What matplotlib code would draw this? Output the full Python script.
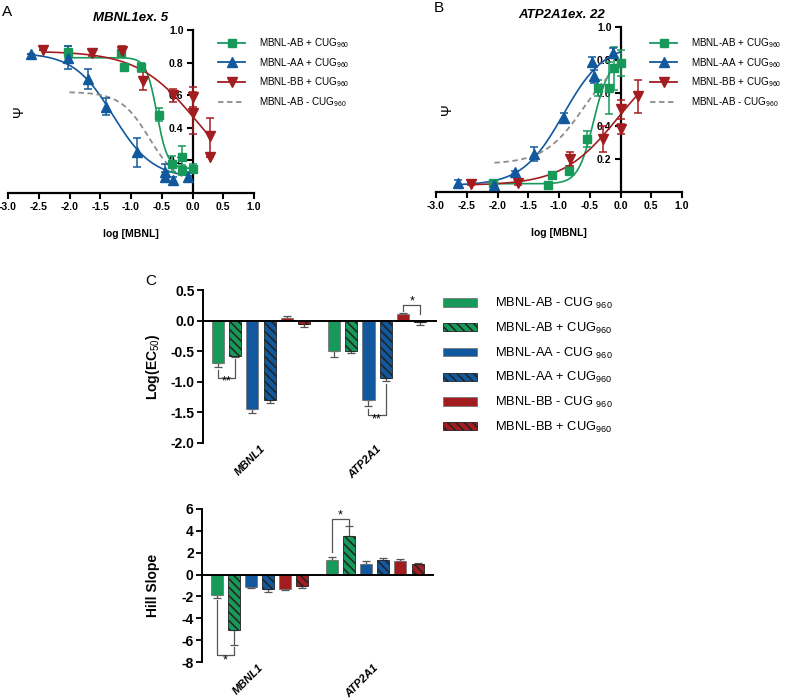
#!/usr/bin/env python3
# mbnl_dose_response.py

import matplotlib
matplotlib.use('Agg')
import matplotlib.pyplot as plt
from matplotlib.lines import Line2D
import numpy as np

plt.rcParams['font.family'] = ['Liberation Sans', 'DejaVu Sans']
plt.rcParams['mathtext.fontset'] = 'custom'
plt.rcParams['mathtext.rm'] = 'Liberation Sans'
plt.rcParams['mathtext.it'] = 'Liberation Sans:italic'
plt.rcParams['mathtext.bf'] = 'Liberation Sans:bold'
plt.rcParams['hatch.linewidth'] = 1.1

GREEN = '#17995a'
BLUE = '#11589e'
RED = '#a31d20'
GREY = '#8c8c8c'

# ---- panel A: MBNL1 exon 5 (log [MBNL] vs psi) ----
a_ab_x = [-2.03, -1.17, -1.12, -0.83, -0.55, -0.34, -0.17, -0.17, 0.0]
a_ab_y = [0.865, 0.86, 0.77, 0.77, 0.48, 0.18, 0.22, 0.14, 0.15]
a_ab_err = [0.035, 0.02, 0.02, 0.03, 0.04, 0.05, 0.07, 0.03, 0.03]
a_aa_x = [-2.62, -2.02, -1.70, -1.41, -0.91, -0.45, -0.45, -0.32, -0.08]
a_aa_y = [0.85, 0.83, 0.70, 0.53, 0.25, 0.13, 0.10, 0.08, 0.10]
a_aa_err = [0.0, 0.07, 0.06, 0.05, 0.09, 0.05, 0.03, 0.02, 0.03]
a_bb_x = [-2.43, -1.64, -1.15, -0.81, -0.32, 0.0, 0.0, 0.29, 0.29]
a_bb_y = [0.88, 0.86, 0.87, 0.69, 0.60, 0.59, 0.49, 0.35, 0.22]
a_bb_err = [0.0, 0.02, 0.03, 0.06, 0.04, 0.06, 0.13, 0.11, 0.0]
# fitted curves: bottom, top, logEC50, hill
a_ab_fit = [0.15, 0.83, -0.58, -5.0]
a_aa_fit = [0.09, 0.86, -1.29, -1.35]
a_bb_fit = [0.0, 0.87, 0.08, -0.9]
a_abneg_fit = [0.05, 0.62, -0.70, -1.85]
a_spans = [[-2.03, 0.0], [-2.62, 0.0], [-2.43, 0.3], [-2.0, 0.0]]

# ---- panel B: ATP2A1 exon 22 ----
b_ab_x = [-2.07, -1.18, -1.12, -0.84, -0.54, -0.36, -0.18, -0.10, 0.0]
b_ab_y = [0.055, 0.04, 0.10, 0.13, 0.32, 0.63, 0.63, 0.75, 0.78]
b_ab_err = [0.02, 0.02, 0.02, 0.03, 0.05, 0.05, 0.16, 0.13, 0.08]
b_aa_x = [-2.64, -2.05, -1.72, -1.41, -0.92, -0.46, -0.43, -0.12]
b_aa_y = [0.055, 0.04, 0.12, 0.23, 0.45, 0.79, 0.70, 0.84]
b_aa_err = [0.02, 0.01, 0.01, 0.04, 0.03, 0.03, 0.04, 0.03]
b_bb_x = [-2.43, -1.66, -0.82, -0.28, 0.0, 0.0, 0.29]
b_bb_y = [0.05, 0.055, 0.20, 0.32, 0.50, 0.38, 0.58]
b_bb_err = [0.01, 0.01, 0.04, 0.08, 0.06, 0.03, 0.10]
b_ab_fit = [0.05, 0.80, -0.44, 3.5]
b_aa_fit = [0.04, 0.90, -0.93, 1.3]
b_bb_fit = [0.04, 0.87, -0.03, 0.95]
b_abneg_fit = [0.17, 0.85, -0.60, 1.35]
b_spans = [[-2.07, 0.0], [-2.64, 0.0], [-2.43, 0.3], [-2.05, -0.2]]

curve_labels = ['MBNL-AB + CUG$_{960}$', 'MBNL-AA + CUG$_{960}$',
                'MBNL-BB + CUG$_{960}$', 'MBNL-AB - CUG$_{960}$']

# ---- panel C: fitted parameters per construct ----
genes = ['MBNL1', 'ATP2A1']
bar_labels = ['MBNL-AB - CUG $_{960}$', 'MBNL-AB + CUG$_{960}$',
              'MBNL-AA - CUG $_{960}$', 'MBNL-AA + CUG$_{960}$',
              'MBNL-BB - CUG $_{960}$', 'MBNL-BB + CUG$_{960}$']
logec_mbnl = [-0.70, -0.58, -1.45, -1.30, 0.05, -0.05]
logec_mbnl_err = [0.05, 0.01, 0.06, 0.04, 0.02, 0.05]
logec_atp = [-0.49, -0.50, -1.30, -0.93, 0.10, -0.03]
logec_atp_err = [0.10, 0.03, 0.10, 0.06, 0.03, 0.05]
hill_mbnl = [-1.85, -5.1, -1.1, -1.35, -1.35, -1.05]
hill_mbnl_err = [0.25, 1.35, 0.1, 0.2, 0.05, 0.2]
hill_atp = [1.35, 3.5, 0.95, 1.3, 1.25, 0.95]
hill_atp_err = [0.3, 0.9, 0.25, 0.25, 0.2, 0.15]

bar_colors = [GREEN, GREEN, BLUE, BLUE, RED, RED]
bar_hatched = [False, True, False, True, False, True]
group_start = [0.0, 6.7]


def logistic(x, bottom, top, logec, hill):
    return bottom + (top - bottom) / (1 + 10 ** ((logec - x) * hill))


def dose_panel(ax, series, fits, spans, title, title_x):
    styles = [(GREEN, 's', 6), (BLUE, '^', 6.5), (RED, 'v', 6.5)]
    for (x, y, err), (c, m, ms) in zip(series, styles):
        ax.errorbar(x, y, yerr=err, fmt=m, color=c, ms=ms, capsize=3,
                    elinewidth=1.1, capthick=1.1, clip_on=False, zorder=3)
    for fit, span, (c, m, ms) in zip(fits[:3], spans[:3], styles):
        xx = np.linspace(span[0], span[1], 200)
        ax.plot(xx, logistic(xx, *fit), color=c, lw=1.2, clip_on=False)
    xx = np.linspace(spans[3][0], spans[3][1], 200)
    ax.plot(xx, logistic(xx, *fits[3]), color=GREY, lw=1.3, ls=(0, (3, 2)))

    ax.set_xlim(-3, 1)
    ax.set_ylim(0, 1)
    ax.spines['left'].set_position(('data', 0))
    for s in ['top', 'right']:
        ax.spines[s].set_visible(False)
    for s in ['left', 'bottom']:
        ax.spines[s].set_linewidth(1.6)
    xt = np.arange(-3, 1.01, 0.5)
    ax.set_xticks(xt)
    ax.set_xticklabels([f'{v:.1f}' for v in xt], fontweight='bold')
    yt = [0.2, 0.4, 0.6, 0.8, 1.0]
    ax.set_yticks(yt)
    ax.set_yticklabels([f'{v:.1f}' for v in yt], fontweight='bold')
    ax.tick_params(direction='out', length=4.5, width=1.5, labelsize=7.5,
                   pad=2)
    ax.set_ylabel('Ψ', fontsize=10)
    ax.yaxis.set_label_coords(0.075, 0.5)
    ax.set_xlabel('log [MBNL]', fontsize=7.5, fontweight='bold', labelpad=12)
    ax.figure.text(title_x, ax.get_position().y1 + 0.017, title,
                   ha='center', va='center', fontsize=9.5,
                   fontweight='bold', fontstyle='italic')

    handles = [Line2D([], [], color=c, marker=m, ms=ms, lw=1.3)
               for c, m, ms in styles]
    handles.append(Line2D([], [], color=GREY, lw=1.3, ls=(0, (3, 2))))
    return handles


def bar_panel(ax, vals0, err0, vals1, err1, ylim, yticks, ylabel):
    hatch_pat = '\\\\\\\\'
    for i in range(6):
        pos = [group_start[0] + i, group_start[1] + i]
        vals = [vals0[i], vals1[i]]
        errs = [err0[i], err1[i]]
        ax.bar(pos, vals, width=0.7, color=bar_colors[i],
               hatch=hatch_pat if bar_hatched[i] else None,
               edgecolor='#222222' if bar_hatched[i] else '#777777',
               linewidth=0.6, label=bar_labels[i], zorder=2)
        lo = [e if v < 0 else 0 for v, e in zip(vals, errs)]
        hi = [e if v >= 0 else 0 for v, e in zip(vals, errs)]
        ax.errorbar(pos, vals, yerr=[lo, hi], fmt='none', ecolor='#555555',
                    elinewidth=0.9, capsize=3, capthick=0.9, zorder=1)
    ax.set_xlim(-0.85, 12.6)
    ax.set_ylim(*ylim)
    ax.set_yticks(yticks)
    ax.set_yticklabels([f'{v:.1f}' if isinstance(v, float) else f'{v}'
                        for v in yticks], fontweight='bold')
    ax.spines['bottom'].set_position(('data', 0))
    for s in ['top', 'right']:
        ax.spines[s].set_visible(False)
    ax.spines['left'].set_linewidth(1.4)
    ax.spines['bottom'].set_linewidth(1.4)
    ax.set_xticks([])
    ax.tick_params(axis='y', direction='out', length=4, width=1.3,
                   labelsize=10, pad=2)
    ax.set_ylabel(ylabel, fontsize=10, fontweight='bold')
    for g, name in zip(group_start, genes):
        ax.text(g + 2.5 + 0.35, -0.005, name,
                transform=ax.get_xaxis_transform(),
                rotation=45, ha='right', va='top', fontsize=8,
                fontweight='bold', fontstyle='italic')


def bracket(ax, x0, x1, y0, y1, ybar, stars, ystar):
    ax.plot([x0, x0, x1, x1], [y0, ybar, ybar, y1], color='#555555',
            lw=0.9, zorder=1)
    ax.text((x0 + x1) / 2, ystar, stars, ha='center', va='center',
            fontsize=9)


def main():
    fig = plt.figure(figsize=(7.85, 7.0), dpi=100)
    W, H = 785, 700

    axA = fig.add_axes([8 / W, 1 - 193 / H, 246 / W, 163 / H])
    axB = fig.add_axes([436 / W, 1 - 192 / H, 246 / W, 165 / H])
    axC1 = fig.add_axes([203 / W, 1 - 443 / H, 233 / W, 153 / H])
    axC2 = fig.add_axes([202 / W, 1 - 662 / H, 231 / W, 153 / H])

    hA = dose_panel(axA,
                    [(a_ab_x, a_ab_y, a_ab_err), (a_aa_x, a_aa_y, a_aa_err),
                     (a_bb_x, a_bb_y, a_bb_err)],
                    [a_ab_fit, a_aa_fit, a_bb_fit, a_abneg_fit], a_spans,
                    'MBNL1ex. 5', 131 / W)
    hB = dose_panel(axB,
                    [(b_ab_x, b_ab_y, b_ab_err), (b_aa_x, b_aa_y, b_aa_err),
                     (b_bb_x, b_bb_y, b_bb_err)],
                    [b_ab_fit, b_aa_fit, b_bb_fit, b_abneg_fit], b_spans,
                    'ATP2A1ex. 22', 562 / W)
    for ax, h, x in [(axA, hA, 218), (axB, hB, 650)]:
        fig.legend(h, curve_labels, loc='upper left', frameon=False,
                   bbox_to_anchor=(x / W, 1 - 36 / H), borderaxespad=0,
                   borderpad=0, fontsize=7.1, handlelength=2.75,
                   handletextpad=1.45, labelspacing=0.6)

    bar_panel(axC1, logec_mbnl, logec_mbnl_err, logec_atp, logec_atp_err,
              (-2.0, 0.5), [-2.0, -1.5, -1.0, -0.5, 0.0, 0.5],
              'Log(EC$_{50}$)')
    axC1.yaxis.set_label_coords(-0.175, 0.5)
    bracket(axC1, 0, 1, -0.8, -0.63, -0.93, '**', -1.0)
    bracket(axC1, 8.7, 9.7, -1.45, -1.03, -1.55, '**', -1.62)
    bracket(axC1, 10.7, 11.7, 0.15, 0.11, 0.26, '*', 0.32)

    bar_panel(axC2, hill_mbnl, hill_mbnl_err, hill_atp, hill_atp_err,
              (-8, 6), [-8, -6, -4, -2, 0, 2, 4, 6], 'Hill Slope')
    axC2.yaxis.set_label_coords(-0.18, 0.5)
    bracket(axC2, 0, 1, -2.3, -6.6, -7.4, '*', -7.85)
    bracket(axC2, 6.7, 7.7, 2.1, 4.5, 5.1, '*', 5.45)

    handles, labels = axC1.get_legend_handles_labels()
    fig.legend(handles, labels, loc='upper left', frameon=False,
               bbox_to_anchor=(443 / W, 1 - 296 / H), borderaxespad=0,
               borderpad=0, fontsize=9.3, handlelength=2.6,
               handleheight=0.6, handletextpad=1.4, labelspacing=0.75)

    fig.text(7 / W, 1 - 12 / H, 'A', ha='center', va='center', fontsize=11)
    fig.text(439 / W, 1 - 8 / H, 'B', ha='center', va='center', fontsize=11)
    fig.text(151 / W, 1 - 281 / H, 'C', ha='center', va='center', fontsize=11)

    fig.savefig('out.png', dpi=100)


if __name__ == "__main__":
    main()
